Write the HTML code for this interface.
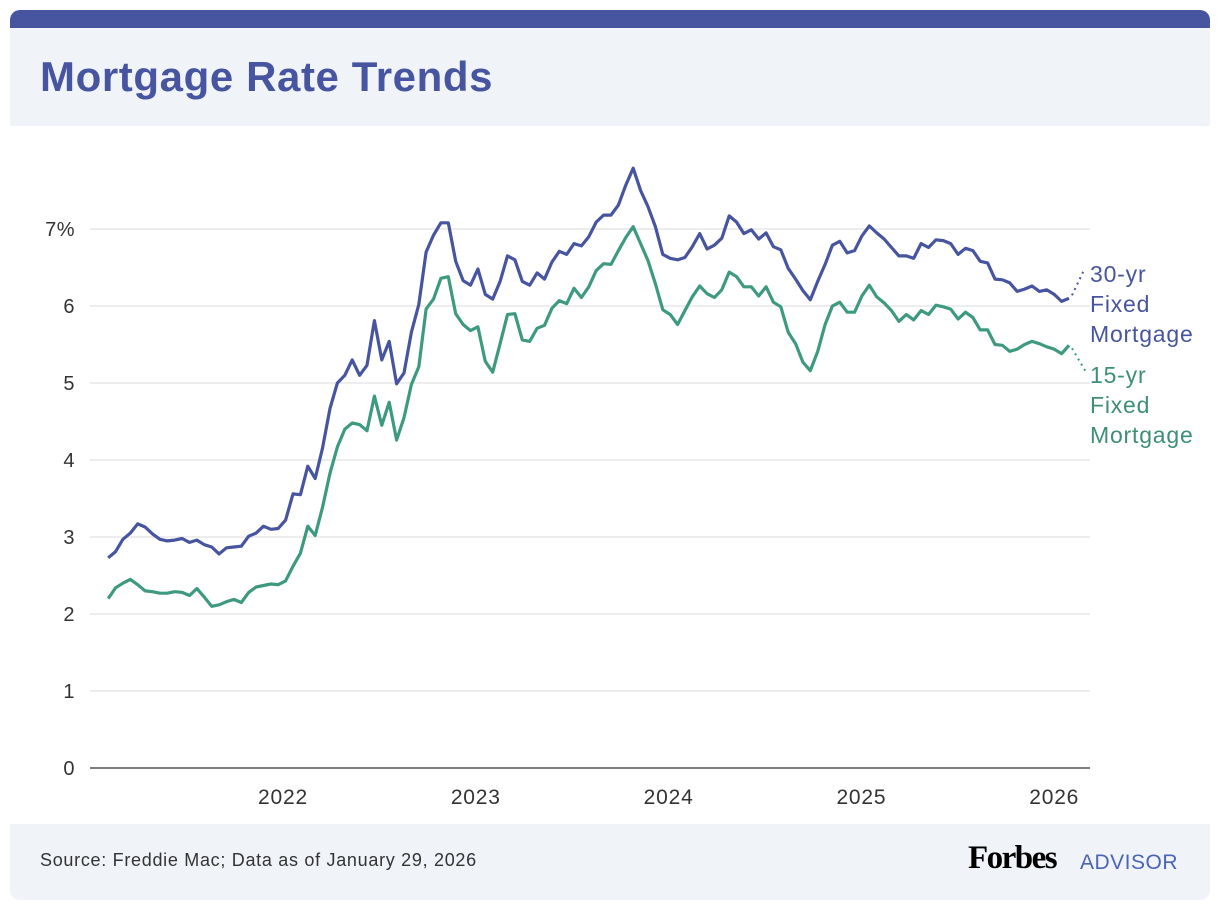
<!DOCTYPE html>
<html><head><meta charset="utf-8"><style>
body{margin:0;background:#fff;width:1220px;height:912px;position:relative;font-family:"Liberation Sans",sans-serif;overflow:hidden}
.top{position:absolute;left:10px;top:10px;width:1200px;height:18px;background:#4755a0;border-radius:10px 10px 0 0}
.head{position:absolute;left:10px;top:28px;width:1200px;height:98px;background:#f0f3f8}
.title{position:absolute;left:40px;top:53px;font-size:42px;font-weight:bold;color:#4755a0;letter-spacing:0.6px}
.foot{position:absolute;left:10px;top:824px;width:1200px;height:76px;background:#f0f3f8;border-radius:0 0 10px 10px}
.src{position:absolute;left:40px;top:850px;font-size:18px;color:#333;letter-spacing:0.7px}
.forbes{position:absolute;left:968px;top:840px;font-family:"Liberation Serif",serif;font-weight:bold;font-size:33px;color:#000;letter-spacing:-1.5px}
.adv{position:absolute;left:1080px;top:851px;font-size:21px;color:#4a64b8;letter-spacing:0.5px}
svg{position:absolute;left:0;top:0}
</style></head><body>
<div class="top"></div>
<div class="head"></div>
<div class="title">Mortgage Rate Trends</div>
<div class="foot"></div>
<div class="src">Source: Freddie Mac; Data as of January 29, 2026</div>
<div class="forbes">Forbes</div>
<div class="adv">ADVISOR</div>
<svg id="chart" width="1220" height="912"></svg>
<script>
const startDate = "2021-02-04";
const stepDays = 14;
const yTicks = [0,1,2,3,4,5,6,7];
const yTickLabels = ["0","1","2","3","4","5","6","7%"];
const xTickYears = [2022,2023,2024,2025,2026];
const rate30 = [2.73,2.81,2.97,3.05,3.17,3.13,3.04,2.97,2.95,2.96,2.98,2.93,2.96,2.90,2.87,2.78,2.86,2.87,2.88,3.01,3.05,3.14,3.10,3.11,
3.22,3.56,3.55,3.92,3.76,4.16,4.67,5.00,5.10,5.30,5.10,5.23,5.81,5.30,5.54,4.99,5.13,5.66,6.02,6.70,6.92,7.08,7.08,6.58,6.33,6.27,
6.48,6.15,6.09,6.32,6.65,6.60,6.32,6.27,6.43,6.35,6.57,6.71,6.67,6.81,6.78,6.90,7.09,7.18,7.18,7.31,7.57,7.79,7.50,7.29,7.03,6.67,
6.62,6.60,6.63,6.77,6.94,6.74,6.79,6.88,7.17,7.09,6.94,6.99,6.87,6.95,6.77,6.73,6.49,6.35,6.20,6.08,6.32,6.54,6.79,6.84,6.69,6.72,
6.91,7.04,6.95,6.87,6.76,6.65,6.65,6.62,6.81,6.76,6.86,6.85,6.81,6.67,6.75,6.72,6.58,6.56,6.35,6.34,6.30,6.19,6.22,6.26,6.19,6.21,
6.15,6.06,6.10];
const rate15 = [2.20,2.34,2.40,2.45,2.38,2.30,2.29,2.27,2.27,2.29,2.28,2.24,2.33,2.22,2.10,2.12,2.16,2.19,2.15,2.28,2.35,2.37,2.39,2.38,
2.43,2.62,2.79,3.14,3.02,3.39,3.83,4.17,4.40,4.48,4.46,4.38,4.83,4.45,4.75,4.26,4.55,4.98,5.21,5.96,6.09,6.36,6.38,5.90,5.76,5.68,
5.73,5.28,5.14,5.51,5.89,5.90,5.56,5.54,5.71,5.75,5.97,6.07,6.03,6.23,6.11,6.25,6.46,6.55,6.54,6.72,6.89,7.03,6.81,6.59,6.29,5.95,
5.89,5.76,5.94,6.12,6.26,6.16,6.11,6.21,6.44,6.38,6.25,6.25,6.13,6.25,6.05,5.99,5.66,5.51,5.27,5.16,5.41,5.76,6.00,6.05,5.92,5.92,
6.13,6.27,6.12,6.04,5.94,5.80,5.89,5.82,5.94,5.89,6.01,5.99,5.96,5.83,5.92,5.85,5.69,5.69,5.50,5.49,5.41,5.44,5.50,5.54,5.51,5.47,
5.44,5.38,5.49];

const NS="http://www.w3.org/2000/svg";
const svg=document.getElementById('chart');
const t0=Date.UTC(2021,1,4);
function yearFrac(ms){const d=new Date(ms);const y=d.getUTCFullYear();const a=Date.UTC(y,0,1),b=Date.UTC(y+1,0,1);return y+(ms-a)/(b-a);}
function xScale(yf){return 283+(yf-2022)*192.8;}
function yScale(v){return 768-v*77;}
function dateAt(i){return yearFrac(t0+i*stepDays*86400000);}
function mk(tag,attrs){const e=document.createElementNS(NS,tag);for(const k in attrs)e.setAttribute(k,attrs[k]);svg.appendChild(e);return e;}

yTicks.forEach((v,i)=>{
  const g=mk('line',{x1:90,x2:1090,y1:yScale(v),y2:yScale(v),stroke:v===0?'#555':'#e2e2e2','stroke-width':v===0?1.5:1.2});
  
  
  const t=mk('text',{x:75,y:yScale(v)+7,'text-anchor':'end','font-size':20,fill:'#333','font-family':'Liberation Sans, sans-serif','letter-spacing':0.5});
  t.textContent=yTickLabels[i];
  
  
});
xTickYears.forEach(y=>{
  const t=mk('text',{x:xScale(y),y:804,'text-anchor':'middle','font-size':21,fill:'#333','font-family':'Liberation Sans, sans-serif','letter-spacing':0.8});
  t.textContent=String(y);
  
  
});
function series(arr,color,name){
  const pts=arr.map((v,i)=>xScale(dateAt(i)).toFixed(1)+','+yScale(v).toFixed(1)).join(' ');
  const p=mk('polyline',{points:pts,fill:'none',stroke:color,'stroke-width':3.2,'stroke-linejoin':'round'});
  
  
  return [xScale(dateAt(arr.length-1)),yScale(arr[arr.length-1])];
}
const e30=series(rate30,'#4755a0','line-30yr');
const e15=series(rate15,'#3e9a7e','line-15yr');
const d1=mk('line',{x1:e30[0]+3,y1:e30[1]-3,x2:1084,y2:270,stroke:'#4755a0','stroke-width':2,'stroke-dasharray':'2 4'});


const d2=mk('line',{x1:e15[0]+3,y1:e15[1]+3,x2:1086,y2:372,stroke:'#3e9a7e','stroke-width':2,'stroke-dasharray':'2 4'});


[["30-yr",282,'#4755a0'],["Fixed",312,'#4755a0'],["Mortgage",342,'#4755a0'],["15-yr",383,'#3e8f74'],["Fixed",413,'#3e8f74'],["Mortgage",443,'#3e8f74']].forEach(l=>{
  const t=mk('text',{x:1090,y:l[1],'font-size':23,fill:l[2],'font-family':'Liberation Sans, sans-serif','letter-spacing':0.8});
  t.textContent=l[0];
  
  
});
</script>
</body></html>
